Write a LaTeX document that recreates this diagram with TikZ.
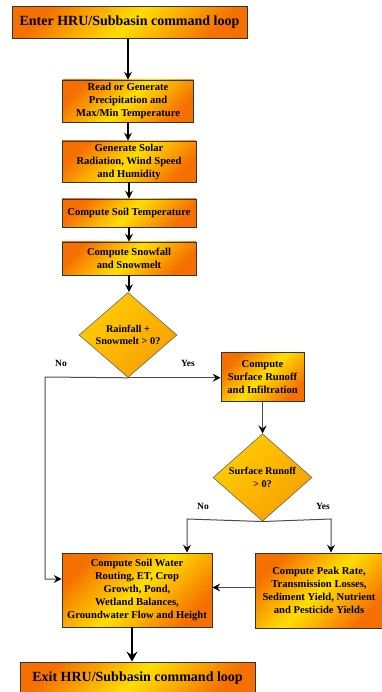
\documentclass[tikz,border=0pt]{standalone}
\usepackage{fontspec}
\setmainfont{Liberation Serif}
\usetikzlibrary{shapes.geometric,arrows.meta}
\definecolor{orA}{RGB}{245,112,0}
\definecolor{yeA}{RGB}{255,222,0}
\definecolor{goA}{RGB}{255,205,0}
\definecolor{goB}{RGB}{248,160,0}
\tikzset{
  box/.style={draw=black!80, line width=0.8pt, top color=orA, bottom color=orA, middle color=yeA,
    shading angle=45, align=center, inner sep=1pt, font=\bfseries\fontsize{10.6}{13}\selectfont},
  bigbox/.style={box, font=\bfseries\fontsize{14}{16}\selectfont, minimum width=235pt, minimum height=32pt},
  decision/.style={diamond, draw=black!60, line width=0.6pt, top color=goA, bottom color=goB,
    shading angle=45, align=center, inner sep=0pt, font=\bfseries\fontsize{10.3}{12.8}\selectfont},
  flow/.style={line width=1.1pt, -{Stealth[length=8pt,width=8pt,inset=3pt]}},
  gflow/.style={draw=black!70, line width=1pt, -{Stealth[length=8pt,width=8pt,inset=3pt,fill=black,color=black]}},
  thick flow/.style={line width=2.4pt, -{Stealth[length=10pt,width=11pt,inset=3.5pt]}},
  lab/.style={font=\bfseries\fontsize{9.5}{11}\selectfont, inner sep=0pt}
}
\begin{document}
\begin{tikzpicture}[x=1pt,y=-1pt]
\useasboundingbox (0,0) rectangle (381,692);
\fill[white] (0,0) rectangle (381,692);

\node[bigbox] (enter) at (129.5,22.5) {Enter HRU/Subbasin command loop};
\node[box, minimum width=131pt, minimum height=42pt] (read) at (128,101) {Read or Generate\\Precipitation and\\Max/Min Temperature};
\node[box, minimum width=134pt, minimum height=41pt] (solar) at (129,161.5) {Generate Solar\\Radiation, Wind Speed\\and Humidity};
\node[box, minimum width=134pt, minimum height=28pt] (temp) at (129,213) {Compute Soil Temperature};
\node[box, minimum width=134pt, minimum height=33pt] (snow) at (129,258.5) {Compute Snowfall\\and Snowmelt};
\node[decision, minimum width=98pt, minimum height=82pt] (d1) at (128,335) {Rainfall +\\Snowmelt > 0?};
\node[box, minimum width=83pt, minimum height=49pt] (sr) at (262.5,377) {Compute\\Surface Runoff\\and Infiltration};
\node[decision, minimum width=99pt, minimum height=81pt] (d2) at (262.5,477.5) {Surface Runoff\\> 0?};
\node[box, minimum width=150pt, minimum height=74pt] (sw) at (137,590) {Compute Soil Water\\Routing, ET, Crop\\Growth, Pond,\\Wetland Balances,\\Groundwater Flow and Height};
\node[box, minimum width=128pt, minimum height=75pt] (pk) at (319,590.5) {Compute Peak Rate,\\Transmission Losses,\\Sediment Yield, Nutrient\\and Pesticide Yields};
\node[bigbox] (exit) at (137.5,678) {Exit HRU/Subbasin command loop};

\node[lab] (no1) at (61,363) {No};
\node[lab] (yes1) at (188,363) {Yes};
\node[lab] (no2) at (203,506) {No};
\node[lab] (yes2) at (323,506) {Yes};

\coordinate (nl) at (45,377);
\coordinate (l2) at (187,519);
\coordinate (r2) at (331,519);

\draw[flow] (read.north |- enter.south) -- (read.north);
\draw[flow] (read.south) -- (read.south |- solar.north);
\draw[flow] (solar.south) -- (temp.north);
\draw[flow] (temp.south) -- (snow.north);
\draw[flow] (snow.south) -- (d1.north -| snow.south);

\draw[gflow] (d1.south) -- (sr.west |- d1.south);
\draw[gflow] (d1.south) -- (nl) -- ([yshift=11pt]sw.west -| nl) -- ([yshift=11pt]sw.west);
\draw[gflow] (sr.south) -- (d2.north);
\draw[gflow] (d2.south) -- (l2) -- (l2 |- sw.north);
\draw[gflow] (d2.south) -- (r2) -- (r2 |- pk.north);
\draw[gflow] ([yshift=3pt]pk.west) -- ([yshift=3pt]pk.west -| sw.east);
\draw[thick flow] ([xshift=-5pt]sw.south) -- ([xshift=-5pt]sw.south |- exit.north);
\end{tikzpicture}
\end{document}
